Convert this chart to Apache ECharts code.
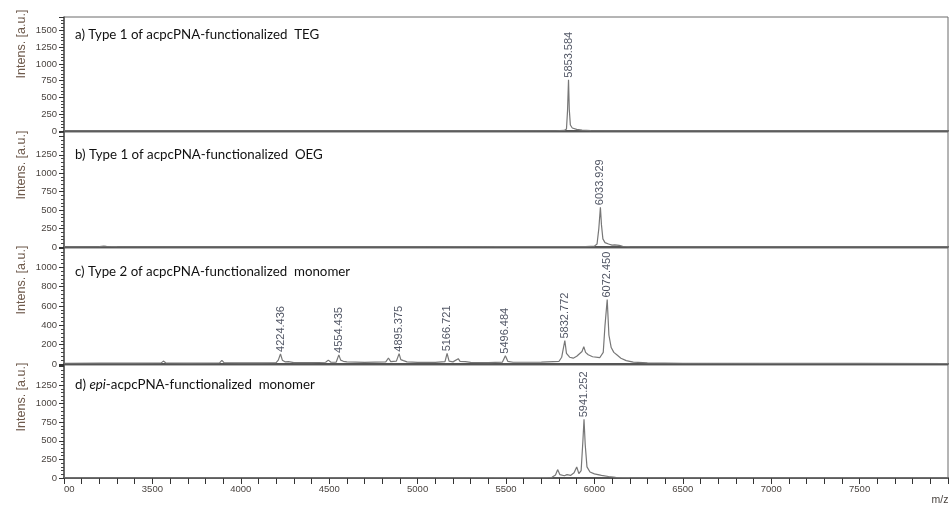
<!DOCTYPE html>
<html>
<head>
<meta charset="utf-8">
<script src="https://cdn.jsdelivr.net/npm/echarts@6/dist/echarts.min.js"></script>
<style>
  html, body { margin: 0; padding: 0; background: #ffffff; }
  #chart { width: 951px; height: 507px; }
</style>
</head>
<body>
<div id="chart"></div>
<script>
// MALDI-TOF spectra, [m/z, intensity in a.u.]
const tegSpectrum = [
  [3000, 2], [3300, 3], [3600, 2], [4000, 3], [4500, 2], [5000, 3], [5500, 3],
  [5780, 4], [5830, 8], [5842, 30], [5848, 300], [5853.584, 765], [5858, 320],
  [5864, 90], [5875, 45], [5900, 25], [5930, 12], [5980, 6], [6100, 3],
  [6500, 2], [7000, 2], [7500, 2], [8000, 2]
];
const oegSpectrum = [
  [3000, 3], [3200, 4], [3225, 12], [3232, 35], [3240, 10], [3300, 4], [3600, 3],
  [4000, 3], [4500, 3], [5000, 3], [5500, 4], [5950, 5], [6000, 12], [6015, 40],
  [6025, 250], [6033.929, 540], [6040, 300], [6048, 110], [6060, 60], [6080, 40],
  [6100, 25], [6115, 30], [6125, 18], [6140, 22], [6160, 10], [6200, 5],
  [6500, 3], [7000, 2], [7500, 2], [8000, 2]
];
const type2Spectrum = [
  [3000, 8], [3200, 10], [3400, 9], [3550, 12], [3562, 30], [3575, 12], [3700, 10],
  [3880, 12], [3893, 38], [3905, 14], [4000, 12], [4100, 12], [4200, 15], [4212, 40],
  [4224.436, 104], [4235, 40], [4250, 22], [4270, 25], [4300, 15], [4400, 14],
  [4480, 18], [4495, 40], [4510, 18], [4540, 20], [4554.435, 94], [4565, 40],
  [4580, 28], [4600, 22], [4700, 16], [4820, 22], [4835, 62], [4848, 24], [4880, 30],
  [4895.375, 107], [4905, 45], [4920, 35], [4940, 22], [5000, 16], [5100, 16],
  [5155, 25], [5166.721, 110], [5178, 30], [5200, 22], [5230, 55], [5240, 28],
  [5270, 25], [5300, 16], [5400, 14], [5480, 20], [5496.484, 86], [5510, 28],
  [5540, 18], [5600, 18], [5610, 35], [5620, 18], [5700, 20], [5800, 28], [5815, 70],
  [5832.772, 243], [5842, 110], [5860, 70], [5880, 60], [5900, 80], [5930, 130],
  [5940, 180], [5950, 120], [5965, 95], [5990, 75], [6030, 65], [6050, 120],
  [6060, 400], [6072.450, 667], [6082, 300], [6095, 170], [6110, 120], [6130, 90],
  [6150, 60], [6180, 35], [6220, 20], [6300, 12], [6500, 8], [7000, 6], [7500, 6],
  [8000, 5]
];
const epiSpectrum = [
  [3000, 3], [3500, 3], [4000, 3], [4500, 3], [5000, 3], [5500, 4], [5700, 5],
  [5760, 10], [5780, 40], [5792, 113], [5805, 45], [5830, 30], [5845, 45], [5855, 60],
  [5865, 35], [5885, 70], [5900, 149], [5912, 60], [5925, 100], [5935, 500],
  [5941.252, 789], [5948, 450], [5958, 150], [5975, 80], [6000, 55], [6040, 35],
  [6080, 20], [6120, 10], [6200, 5], [6500, 3], [7000, 2], [7500, 2], [8000, 2]
];

// annotated peak positions (m/z)
const tegPeaks = [5853.584];
const oegPeaks = [6033.929];
const type2Peaks = [4224.436, 4554.435, 4895.375, 5166.721, 5496.484, 5832.772, 6072.450];
const epiPeaks = [5941.252];

// intensity axes: ceiling, tick step, highest labelled tick
const yMax = [1700, 1560, 1200, 1520];
const yStep = [250, 250, 200, 250];
const yLabelTop = [1500, 1250, 1000, 1250];

// x axis
const mzMin = 3000, mzMax = 8000, mzStep = 500;

const panelTitles = [
  '{n|a) Type 1 of acpcPNA-functionalized  TEG}',
  '{n|b) Type 1 of acpcPNA-functionalized  OEG}',
  '{n|c) Type 2 of acpcPNA-functionalized  monomer}',
  '{n|d) }{i|epi}{n|-acpcPNA-functionalized  monomer}'
];

const spectra = [tegSpectrum, oegSpectrum, type2Spectrum, epiSpectrum];
const peaks = [tegPeaks, oegPeaks, type2Peaks, epiPeaks];

// layout of the four stacked panels
const panelTop = [17, 132, 248, 365];
const panelHeight = [114, 115, 116, 113];
const titleY = [35, 155, 272, 385];
const yNameY = [44, 165, 280, 397];

const axisColor = '#555555';
const labelColor = '#4a4440';

const grids = [], xAxes = [], yAxes = [], series = [], titles = [], graphics = [];

for (let i = 0; i < 4; i++) {
  const last = i === 3;
  grids.push({
    left: 64, right: 3, top: panelTop[i], height: panelHeight[i],
    show: true, borderColor: '#6a6a6a', borderWidth: 1,
    outerBoundsMode: 'none', containLabel: false
  });
  xAxes.push({
    type: 'value', gridIndex: i, min: mzMin, max: mzMax, interval: mzStep,
    axisLine: { show: true, onZero: false, lineStyle: { color: axisColor, width: 2 } },
    axisTick: { show: last, length: 6, lineStyle: { color: '#333' } },
    minorTick: { show: last, splitNumber: 5, length: 6, lineStyle: { color: '#333' } },
    axisLabel: {
      show: last, fontSize: 9.5, color: labelColor, margin: 6,
      fontFamily: 'Liberation Sans',
      formatter: v => (v === mzMin ? '    00' : v > 7500 ? '' : String(v))
    },
    splitLine: { show: false }
  });
  const top = yLabelTop[i];
  yAxes.push({
    type: 'value', gridIndex: i, min: 0, max: yMax[i], interval: yStep[i],
    axisLine: { show: true, lineStyle: { color: axisColor, width: 1.5 } },
    axisTick: { show: true, length: 5, lineStyle: { color: '#333' } },
    minorTick: { show: true, splitNumber: 5, length: 3, lineStyle: { color: '#444' } },
    axisLabel: {
      fontSize: 9.5, color: labelColor, margin: 7, fontFamily: 'Liberation Sans',
      formatter: v => (v > top ? '' : String(v))
    },
    splitLine: { show: false }
  });

  const data = spectra[i];
  series.push({
    type: 'line', xAxisIndex: i, yAxisIndex: i, data: data,
    showSymbol: false, silent: true,
    lineStyle: { color: '#777777', width: 1.2 }
  });

  // peak annotations, placed on the spectrum's own apex values
  const peakPoints = peaks[i].map(mz => data.find(p => p[0] === mz));
  series.push({
    type: 'scatter', xAxisIndex: i, yAxisIndex: i, data: peakPoints,
    symbolSize: 0, silent: true,
    label: {
      show: true, position: 'top', distance: 2, rotate: 90,
      align: 'left', verticalAlign: 'middle',
      fontSize: 11, fontFamily: 'Liberation Sans', color: '#1f2538',
      formatter: p => p.value[0].toFixed(3)
    }
  });

  titles.push({
    text: panelTitles[i], left: 75, top: titleY[i] - 7, padding: 0,
    textStyle: {
      rich: {
        n: { fontSize: 13.3, fontFamily: 'Lato', color: '#111', fontWeight: 'normal' },
        i: { fontSize: 13.3, fontFamily: 'Lato', color: '#111', fontStyle: 'italic', fontWeight: 'normal' }
      }
    }
  });

  graphics.push({
    type: 'text', x: 22, y: yNameY[i], rotation: Math.PI / 2,
    style: {
      text: 'Intens. [a.u.]', fontSize: 12.5, fontFamily: 'Liberation Sans',
      fill: '#6e5a4c', align: 'center', verticalAlign: 'middle'
    }
  });
}

graphics.push({
  type: 'text', x: 940, y: 500,
  style: {
    text: 'm/z', fontSize: 10.5, fontFamily: 'Liberation Sans',
    fill: '#4a4440', align: 'center', verticalAlign: 'middle'
  }
});

const chart = echarts.init(document.getElementById('chart'), null, { renderer: 'canvas' });
chart.setOption({
  animation: false,
  backgroundColor: '#ffffff',
  title: titles,
  grid: grids,
  xAxis: xAxes,
  yAxis: yAxes,
  series: series,
  graphic: graphics
});
</script>
</body>
</html>
